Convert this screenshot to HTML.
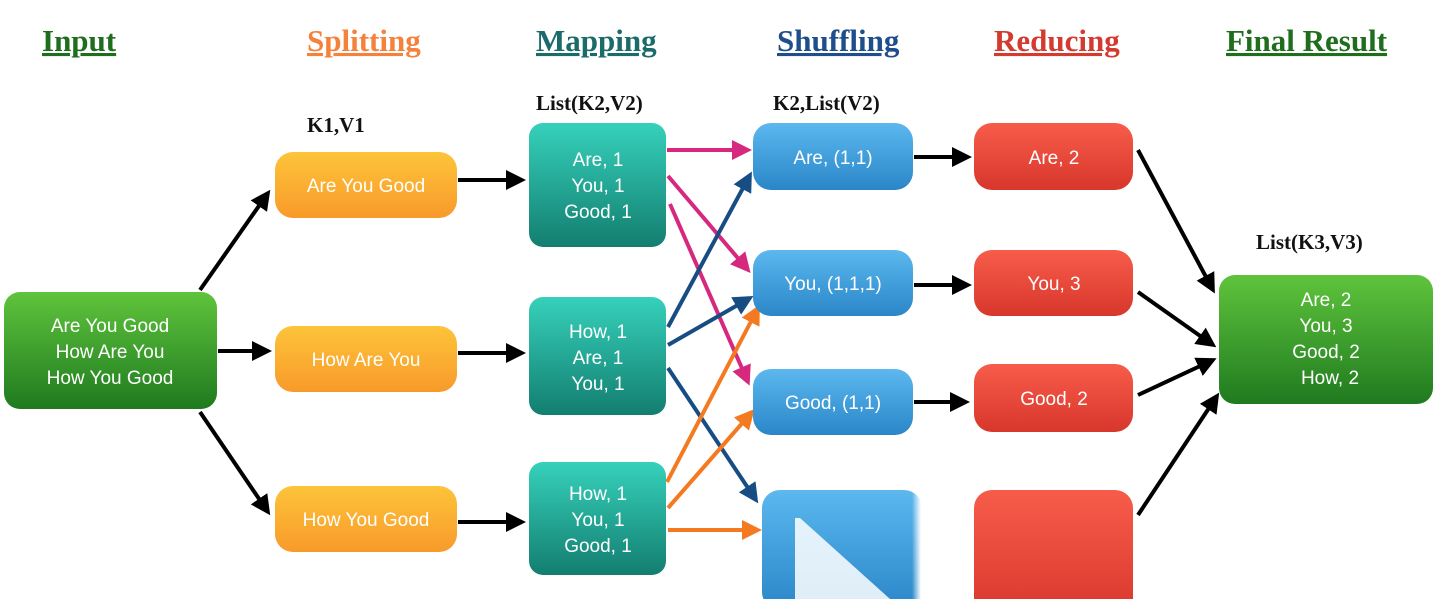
<!DOCTYPE html>
<html><head><meta charset="utf-8"><style>
body{margin:0;background:#fff}
svg{display:block}
.h{font-family:"Liberation Serif",serif;font-weight:bold;font-size:31px;text-decoration:underline}
.l{font-family:"Liberation Serif",serif;font-weight:bold;font-size:21px;fill:#111}
.t{font-family:"Liberation Sans",sans-serif;font-size:19px;fill:#fff;text-anchor:middle}
</style></head><body>
<svg width="1450" height="599" viewBox="0 0 1450 599" xmlns="http://www.w3.org/2000/svg">
<defs>
<linearGradient id="gG" x1="0" y1="0" x2="0" y2="1"><stop offset="0" stop-color="#5fc43c"/><stop offset="1" stop-color="#1f7a1f"/></linearGradient>
<linearGradient id="gO" x1="0" y1="0" x2="0" y2="1"><stop offset="0" stop-color="#fdc43a"/><stop offset="1" stop-color="#f89a2a"/></linearGradient>
<linearGradient id="gT" x1="0" y1="0" x2="0" y2="1"><stop offset="0" stop-color="#36d1bb"/><stop offset="1" stop-color="#137e70"/></linearGradient>
<linearGradient id="gB" x1="0" y1="0" x2="0" y2="1"><stop offset="0" stop-color="#5cb8ee"/><stop offset="1" stop-color="#2a86c8"/></linearGradient>
<linearGradient id="gR" x1="0" y1="0" x2="0" y2="1"><stop offset="0" stop-color="#f75c4a"/><stop offset="1" stop-color="#d8372c"/></linearGradient>
<marker id="ak" markerWidth="5" markerHeight="5" refX="4" refY="2.5" orient="auto" markerUnits="strokeWidth"><path d="M0,0 L5,2.5 L0,5z" fill="#000"/></marker>
<marker id="ap" markerWidth="5" markerHeight="5" refX="4" refY="2.5" orient="auto" markerUnits="strokeWidth"><path d="M0,0 L5,2.5 L0,5z" fill="#d6287e"/></marker>
<marker id="ab" markerWidth="5" markerHeight="5" refX="4" refY="2.5" orient="auto" markerUnits="strokeWidth"><path d="M0,0 L5,2.5 L0,5z" fill="#184d84"/></marker>
<marker id="ao" markerWidth="5" markerHeight="5" refX="4" refY="2.5" orient="auto" markerUnits="strokeWidth"><path d="M0,0 L5,2.5 L0,5z" fill="#f47a22"/></marker>
<linearGradient id="wf" x1="0" y1="0" x2="1" y2="0"><stop offset="0" stop-color="#fff" stop-opacity="0"/><stop offset="0.3" stop-color="#fff" stop-opacity="1"/></linearGradient>
</defs>
<text class="h" x="42" y="51" fill="#1e6e1e">Input</text>
<text class="h" x="307" y="51" fill="#f5813a">Splitting</text>
<text class="h" x="536" y="51" fill="#1b6b6b">Mapping</text>
<text class="h" x="777" y="51" fill="#1f4e8c">Shuffling</text>
<text class="h" x="994" y="51" fill="#d33a30">Reducing</text>
<text class="h" x="1226" y="51" fill="#1e6e1e">Final Result</text>
<text class="l" x="307" y="132">K1,V1</text>
<text class="l" x="536" y="110">List(K2,V2)</text>
<text class="l" x="773" y="110">K2,List(V2)</text>
<text class="l" x="1256" y="249">List(K3,V3)</text>

<g stroke="#000" stroke-width="4" fill="none" marker-end="url(#ak)">
<line x1="200" y1="290" x2="268" y2="193"/>
<line x1="218" y1="351" x2="268" y2="351"/>
<line x1="200" y1="412" x2="268" y2="512"/>
<line x1="458" y1="180" x2="522" y2="180"/>
<line x1="458" y1="353" x2="522" y2="353"/>
<line x1="458" y1="522" x2="522" y2="522"/>
<line x1="914" y1="157" x2="968" y2="157"/>
<line x1="914" y1="285" x2="968" y2="285"/>
<line x1="914" y1="402" x2="966" y2="402"/>
<line x1="1138" y1="150" x2="1213" y2="290"/>
<line x1="1138" y1="292" x2="1213" y2="345"/>
<line x1="1138" y1="395" x2="1213" y2="360"/>
<line x1="1138" y1="515" x2="1217" y2="396"/>
</g>
<g stroke-width="4" fill="none">
<line x1="667" y1="150" x2="748" y2="150" stroke="#d6287e" marker-end="url(#ap)"/>
<line x1="668" y1="176" x2="748" y2="270" stroke="#d6287e" marker-end="url(#ap)"/>
<line x1="670" y1="204" x2="748" y2="382" stroke="#d6287e" marker-end="url(#ap)"/>
<line x1="668" y1="327" x2="750" y2="175" stroke="#184d84" marker-end="url(#ab)"/>
<line x1="668" y1="345" x2="750" y2="298" stroke="#184d84" marker-end="url(#ab)"/>
<line x1="668" y1="368" x2="756" y2="500" stroke="#184d84" marker-end="url(#ab)"/>
<line x1="667" y1="482" x2="758" y2="308" stroke="#f47a22" marker-end="url(#ao)"/>
<line x1="668" y1="508" x2="752" y2="412" stroke="#f47a22" marker-end="url(#ao)"/>
<line x1="668" y1="530" x2="758" y2="530" stroke="#f47a22" marker-end="url(#ao)"/>
</g>

<rect x="4" y="292" width="213" height="117" rx="16" fill="url(#gG)"/>
<text class="t" x="110" y="332">Are You Good</text>
<text class="t" x="110" y="358">How Are You</text>
<text class="t" x="110" y="384">How You Good</text>

<rect x="275" y="152" width="182" height="66" rx="18" fill="url(#gO)"/>
<text class="t" x="366" y="192">Are You Good</text>
<rect x="275" y="326" width="182" height="66" rx="18" fill="url(#gO)"/>
<text class="t" x="366" y="366">How Are You</text>
<rect x="275" y="486" width="182" height="66" rx="18" fill="url(#gO)"/>
<text class="t" x="366" y="526">How You Good</text>

<rect x="529" y="123" width="137" height="124" rx="14" fill="url(#gT)"/>
<text class="t" x="598" y="166">Are, 1</text><text class="t" x="598" y="192">You, 1</text><text class="t" x="598" y="218">Good, 1</text>
<rect x="529" y="297" width="137" height="118" rx="14" fill="url(#gT)"/>
<text class="t" x="598" y="338">How, 1</text><text class="t" x="598" y="364">Are, 1</text><text class="t" x="598" y="390">You, 1</text>
<rect x="529" y="462" width="137" height="113" rx="14" fill="url(#gT)"/>
<text class="t" x="598" y="500">How, 1</text><text class="t" x="598" y="526">You, 1</text><text class="t" x="598" y="552">Good, 1</text>

<rect x="753" y="123" width="160" height="67" rx="18" fill="url(#gB)"/>
<text class="t" x="833" y="164">Are, (1,1)</text>
<rect x="753" y="250" width="160" height="66" rx="18" fill="url(#gB)"/>
<text class="t" x="833" y="290">You, (1,1,1)</text>
<rect x="753" y="369" width="160" height="66" rx="18" fill="url(#gB)"/>
<text class="t" x="833" y="409">Good, (1,1)</text>
<rect x="762" y="490" width="160" height="120" rx="18" fill="url(#gB)"/>
<polygon points="795,518 800,518 890,599 795,599" fill="#fff" opacity="0.85"/>
<rect x="912" y="490" width="30" height="109" fill="url(#wf)"/>

<rect x="974" y="123" width="159" height="67" rx="18" fill="url(#gR)"/>
<text class="t" x="1054" y="164">Are, 2</text>
<rect x="974" y="250" width="159" height="66" rx="18" fill="url(#gR)"/>
<text class="t" x="1054" y="290">You, 3</text>
<rect x="974" y="364" width="159" height="68" rx="18" fill="url(#gR)"/>
<text class="t" x="1054" y="405">Good, 2</text>
<rect x="974" y="490" width="159" height="130" rx="18" fill="url(#gR)"/>

<rect x="1219" y="275" width="214" height="129" rx="16" fill="url(#gG)"/>
<text class="t" x="1326" y="306">Are, 2</text><text class="t" x="1326" y="332">You, 3</text><text class="t" x="1326" y="358">Good, 2</text><text class="t" x="1330" y="384">How, 2</text>
</svg>
</body></html>
